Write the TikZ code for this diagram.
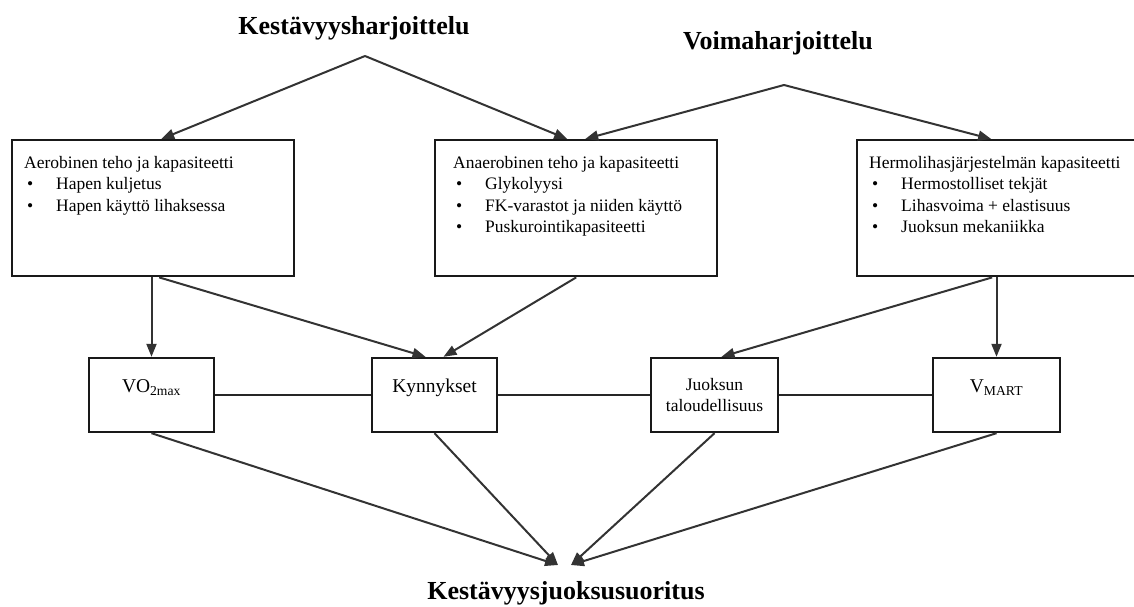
\documentclass[tikz,border=0pt]{standalone}
\usepackage{fontspec}
\setmainfont{Liberation Serif}
\usetikzlibrary{arrows.meta,positioning}

\newcommand{\kohta}[1]{\par\hspace*{3pt}\makebox[29pt][l]{\textbullet}#1}

\tikzset{
  otsikko/.style={font=\fontsize{26}{30}\selectfont\bfseries, inner sep=0pt},
  kyky/.style={draw=black!90, line width=2.4pt, anchor=north west,
    inner xsep=12pt, inner ysep=13pt, font=\fontsize{17.5}{21.5}\selectfont},
  mittari/.style={draw=black!90, line width=2.4pt, minimum width=125pt,
    minimum height=74pt, inner sep=0pt, align=center,
    font=\fontsize{19.5}{21}\selectfont, text height=13pt, text depth=19pt},
  nuoli/.style={draw=black!80, line width=2pt, -{Triangle[length=13pt,width=10pt]}},
  yhteys/.style={draw=black!85, line width=2.2pt}
}

\begin{document}
\begin{tikzpicture}[x=1pt,y=-1pt]
  \useasboundingbox (0,0) rectangle (1134,607);
  %% training
  \node[otsikko] (kesto) at (354,28) {Kestävyysharjoittelu};
  \node[otsikko] (voima) at (778,43) {Voimaharjoittelu};
  \coordinate (kkarki) at (365,56);
  \coordinate (vkarki) at (784,85);
  %% capacities
  \node[kyky] (aero) at (11,139) {\parbox[t][110pt][t]{258pt}{\strut Aerobinen teho ja kapasiteetti
    \kohta{Hapen kuljetus}\kohta{Hapen käyttö lihaksessa}}};
  \node[kyky, inner xsep=18pt] (anaer) at (434,139) {\parbox[t][110pt][t]{246pt}{\strut Anaerobinen teho ja kapasiteetti
    \kohta{Glykolyysi}\kohta{FK-varastot ja niiden käyttö}\kohta{Puskurointikapasiteetti}}};
  \node[kyky] (hermo) at (856,139) {\parbox[t][110pt][t]{260pt}{\strut\mbox{Hermolihasjärjestelmän kapasiteetti}
    \kohta{Hermostolliset tekjät}\kohta{Lihasvoima + elastisuus}\kohta{Juoksun mekaniikka}}};
  %% measures
  \node[mittari] (vo2) at (151.5,395) {VO\textsubscript{2max}};
  \node[mittari] (kynn) at (434.5,395) {Kynnykset};
  \node[mittari, minimum width=127pt, text height=, text depth=, font=\fontsize{17.5}{21}\selectfont] (juok) at (714.5,395) {Juoksun\\taloudellisuus};
  \node[mittari, minimum width=127pt] (vmart) at (996.5,395) {V\textsubscript{MART}};
  %% performance
  \node[otsikko] (tulos) at (566,593) {Kestävyysjuoksusuoritus};
  \coordinate (maaliV) at (558,565);
  \coordinate (maaliO) at (571,565);

  \draw[nuoli] (kkarki) -- ([xshift=8pt]aero.north);
  \draw[nuoli] (kkarki) -- ([xshift=-9pt]anaer.north);
  \draw[nuoli] (vkarki) -- ([xshift=9pt]anaer.north);
  \draw[nuoli] (vkarki) -- ([xshift=-8pt]hermo.north);

  \draw[nuoli] (vo2.north |- aero.south) -- (vo2.north);
  \draw[nuoli] ([xshift=6pt]aero.south) -- ([xshift=-9pt]kynn.north);
  \draw[nuoli] (anaer.south) -- ([xshift=9pt]kynn.north);
  \draw[nuoli] ([xshift=-7pt]hermo.south) -- ([xshift=7pt]juok.north);
  \draw[nuoli] (vmart.north |- hermo.south) -- (vmart.north);

  \draw[yhteys] (vo2) -- (kynn) -- (juok) -- (vmart);

  \draw[nuoli] (vo2.south) -- (maaliV);
  \draw[nuoli] (kynn.south) -- (maaliV);
  \draw[nuoli] (juok.south) -- (maaliO);
  \draw[nuoli] (vmart.south) -- (maaliO);
\end{tikzpicture}
\end{document}
